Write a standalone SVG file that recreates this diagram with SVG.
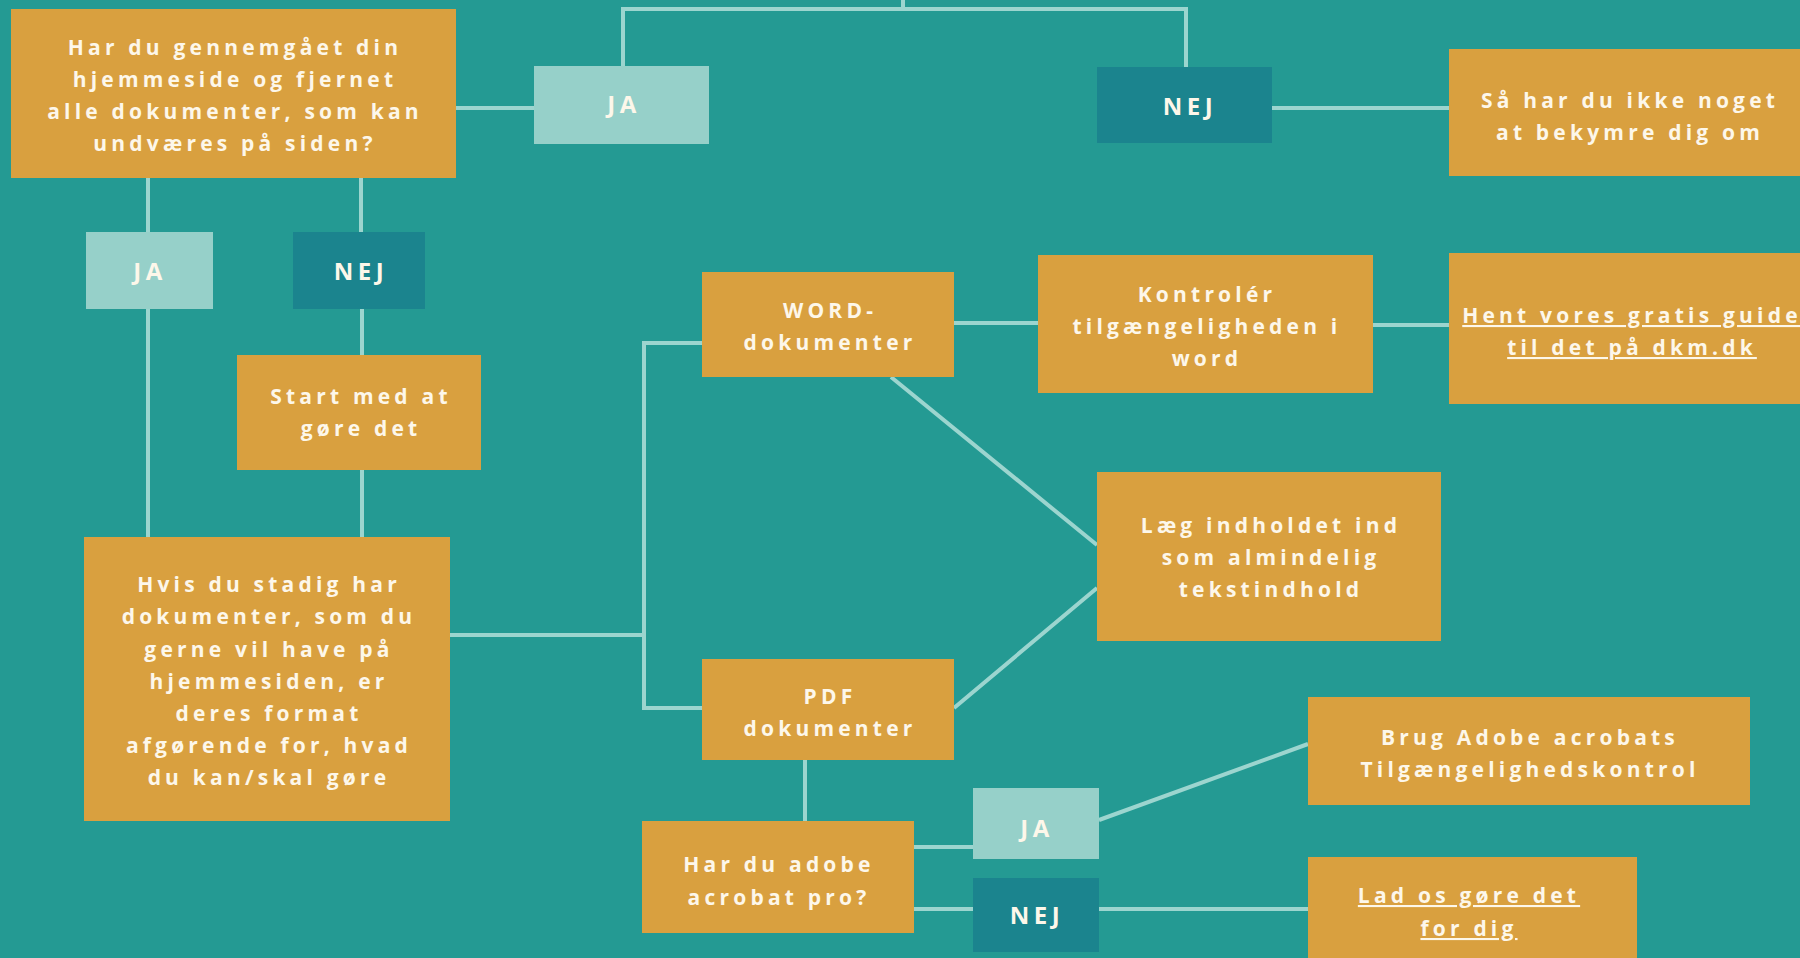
<svg xmlns="http://www.w3.org/2000/svg" width="1800" height="958" viewBox="0 0 1800 958">
<style>
.bg{fill:#249a93}
.box{fill:#d9a03f}
.ja{fill:#96d0c9}
.nej{fill:#1b848e}
.c{stroke:#9cd5cf;stroke-width:4;fill:none}
text{font-family:"Open Sans","Liberation Sans",sans-serif;font-weight:700;fill:#fdf7ea;text-anchor:middle}
.t{font-size:21px;letter-spacing:4.2px}
.l{font-size:24px;letter-spacing:4.5px}
.u{text-decoration:underline}
</style>
<rect class="bg" x="0" y="0" width="1800" height="958"/>
<g id="connectors">
<path class="c" d="M903 0V9"/>
<path class="c" d="M623 66V9H1186V67"/>
<path class="c" d="M456 108H534"/>
<path class="c" d="M1272 108H1449"/>
<path class="c" d="M148 178V232M148 309V537"/>
<path class="c" d="M361 178V232M362 309V355M362 470V537"/>
<path class="c" d="M450 635H644M702 343H644V708H702"/>
<path class="c" d="M954 323H1038M1373 325H1449"/>
<path class="c" d="M891 377L1097 545M954 708L1097 588"/>
<path class="c" d="M805 760V821"/>
<path class="c" d="M914 847H973M914 909H973"/>
<path class="c" d="M1099 820L1308 744M1099 909H1308"/>
</g>
<g id="n-start"><rect class="box" x="11" y="9" width="445" height="169"/>
<text class="t" x="235" y="55">Har du gennemgået din</text>
<text class="t" x="235" y="87">hjemmeside og fjernet</text>
<text class="t" x="235" y="119">alle dokumenter, som kan</text>
<text class="t" x="235" y="151">undværes på siden?</text></g>
<g id="n-ja1"><rect class="ja" x="534" y="66" width="175" height="78"/><text class="l" x="624" y="113">JA</text></g>
<g id="n-nej1"><rect class="nej" x="1097" y="67" width="175" height="76"/><text class="l" x="1190" y="115">NEJ</text></g>
<g id="n-saa"><rect class="box" x="1449" y="49" width="351" height="127"/>
<text class="t" x="1630" y="108">Så har du ikke noget</text>
<text class="t" x="1630" y="140">at bekymre dig om</text></g>
<g id="n-ja2"><rect class="ja" x="86" y="232" width="127" height="77"/><text class="l" x="150" y="280">JA</text></g>
<g id="n-nej2"><rect class="nej" x="293" y="232" width="132" height="77"/><text class="l" x="361" y="280">NEJ</text></g>
<g id="n-startmed"><rect class="box" x="237" y="355" width="244" height="115"/>
<text class="t" x="361" y="404">Start med at</text>
<text class="t" x="361" y="436">gøre det</text></g>
<g id="n-hvis"><rect class="box" x="84" y="537" width="366" height="284"/>
<text class="t" x="269" y="592">Hvis du stadig har</text>
<text class="t" x="269" y="624">dokumenter, som du</text>
<text class="t" x="269" y="657">gerne vil have på</text>
<text class="t" x="269" y="689">hjemmesiden, er</text>
<text class="t" x="269" y="721">deres format</text>
<text class="t" x="269" y="753">afgørende for, hvad</text>
<text class="t" x="269" y="785">du kan/skal gøre</text></g>
<g id="n-word"><rect class="box" x="702" y="272" width="252" height="105"/>
<text class="t" x="830" y="318">WORD-</text>
<text class="t" x="830" y="350">dokumenter</text></g>
<g id="n-kontroler"><rect class="box" x="1038" y="255" width="335" height="138"/>
<text class="t" x="1207" y="302">Kontrolér</text>
<text class="t" x="1207" y="334">tilgængeligheden i</text>
<text class="t" x="1207" y="366">word</text></g>
<g id="n-hent"><rect class="box" x="1449" y="253" width="351" height="151"/>
<text class="t u" x="1632" y="323">Hent vores gratis guide</text>
<text class="t u" x="1632" y="355">til det på dkm.dk</text></g>
<g id="n-laeg"><rect class="box" x="1097" y="472" width="344" height="169"/>
<text class="t" x="1271" y="533">Læg indholdet ind</text>
<text class="t" x="1271" y="565">som almindelig</text>
<text class="t" x="1271" y="597">tekstindhold</text></g>
<g id="n-pdf"><rect class="box" x="702" y="659" width="252" height="101"/>
<text class="t" x="830" y="704">PDF</text>
<text class="t" x="830" y="736">dokumenter</text></g>
<g id="n-adobe"><rect class="box" x="642" y="821" width="272" height="112"/>
<text class="t" x="779" y="872">Har du adobe</text>
<text class="t" x="779" y="905">acrobat pro?</text></g>
<g id="n-ja3"><rect class="ja" x="973" y="788" width="126" height="71"/><text class="l" x="1037" y="837">JA</text></g>
<g id="n-nej3"><rect class="nej" x="973" y="878" width="126" height="74"/><text class="l" x="1037" y="924">NEJ</text></g>
<g id="n-brug"><rect class="box" x="1308" y="697" width="442" height="108"/>
<text class="t" x="1530" y="745">Brug Adobe acrobats</text>
<text class="t" x="1530" y="777">Tilgængelighedskontrol</text></g>
<g id="n-lad"><rect class="box" x="1308" y="857" width="329" height="101"/>
<text class="t u" x="1469" y="903">Lad os gøre det</text>
<text class="t u" x="1469" y="936">for dig</text></g>
</svg>
